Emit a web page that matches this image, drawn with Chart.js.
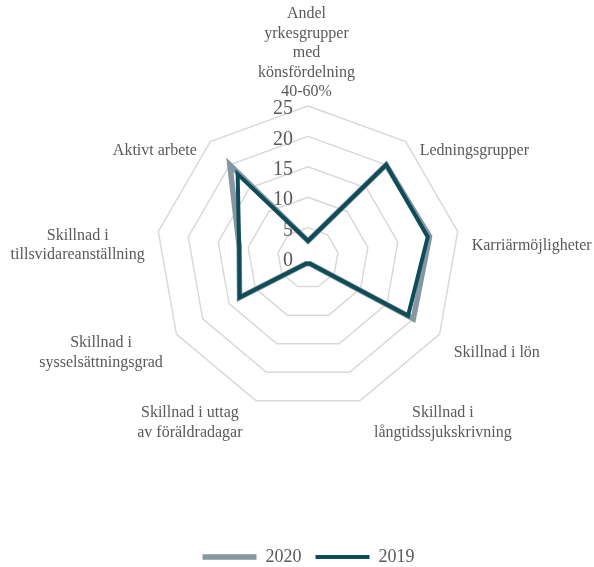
<!DOCTYPE html>
<html>
<head>
<meta charset="utf-8">
<script src="https://cdn.jsdelivr.net/npm/chart.js@4.4.1/dist/chart.umd.min.js"></script>
<style>
  html, body { margin: 0; padding: 0; background: #fff; }
</style>
</head>
<body>
<canvas id="radar" width="594" height="567"></canvas>
<script>
const categories = [
  ['Andel', 'yrkesgrupper', 'med', 'könsfördelning', '40-60%'],
  'Ledningsgrupper',
  'Karriärmöjligheter',
  'Skillnad i lön',
  ['Skillnad i', 'långtidssjukskrivning'],
  ['Skillnad i uttag', 'av föräldradagar'],
  ['Skillnad i', 'sysselsättningsgrad'],
  ['Skillnad i', 'tillsvidareanställning'],
  'Aktivt arbete'
];
const values2020 = [2.8, 20, 20.3, 20, 1, 1, 13, 11.5, 20];
const values2019 = [2.8, 20, 20, 19, 1, 1, 13, 11.5, 18];
const tickValues = [0, 5, 10, 15, 20, 25];

const serif = '"Liberation Serif", "Times New Roman", serif';
const textColor = '#595959';

// tick labels sit left of the vertical axis, like in Excel
const tickLabels = {
  id: 'tickLabels',
  beforeDatasetsDraw(chart) {
    const scale = chart.scales.r;
    const ctx = chart.ctx;
    ctx.save();
    ctx.fillStyle = textColor;
    ctx.font = '20px ' + serif;
    ctx.textAlign = 'right';
    ctx.textBaseline = 'middle';
    tickValues.forEach(v => {
      const y = scale.yCenter - scale.getDistanceFromCenterForValue(v);
      ctx.fillText(String(v), scale.xCenter - 15, y + 3);
    });
    ctx.restore();
  }
};

// category labels, multi-line and centred per block
const categoryLabels = {
  id: 'categoryLabels',
  afterDraw(chart) {
    const scale = chart.scales.r;
    const ctx = chart.ctx;
    const lineH = 19.5;
    ctx.save();
    ctx.fillStyle = textColor;
    ctx.font = '16px ' + serif;
    ctx.textAlign = 'center';
    ctx.textBaseline = 'middle';
    categories.forEach((label, i) => {
      const lines = Array.isArray(label) ? label : [label];
      const n = lines.length;
      const p = scale.getPointPosition(i, scale.drawingArea);
      const cos = Math.cos(p.angle);
      const sin = Math.sin(p.angle);
      const w = Math.max(...lines.map(t => ctx.measureText(t).width));
      let cx, firstY;
      if (Math.abs(cos) < 0.01) {
        cx = p.x - 1.5;
        firstY = p.y - 14 - (n - 1) * lineH;
      } else {
        cx = cos > 0 ? p.x + 14 + w / 2 : p.x - 13.5 - w / 2;
        const midY = p.y + 15 + 7.5 * sin;
        firstY = midY - (n - 1) * lineH / 2;
      }
      lines.forEach((t, k) => ctx.fillText(t, cx, firstY + k * lineH));
    });
    ctx.restore();
  }
};

new Chart(document.getElementById('radar'), {
  type: 'radar',
  data: {
    labels: categories,
    datasets: [
      {
        label: '2019',
        data: values2019,
        borderColor: '#0f4c5a',
        backgroundColor: '#0f4c5a',
        borderWidth: 4,
        borderJoinStyle: 'miter',
        borderCapStyle: 'round',
        fill: false,
        pointRadius: 0
      },
      {
        label: '2020',
        data: values2020,
        borderColor: '#8597a0',
        backgroundColor: '#8597a0',
        borderWidth: 5.5,
        borderJoinStyle: 'miter',
        borderCapStyle: 'round',
        fill: false,
        pointRadius: 0
      }
    ]
  },
  options: {
    responsive: false,
    animation: false,
    layout: {
      padding: { left: 156, right: 133, top: 0, bottom: -9 }
    },
    scales: {
      r: {
        min: 0,
        max: 25,
        ticks: { stepSize: 5, display: false },
        grid: { color: '#d9d9d9', lineWidth: 1.5 },
        angleLines: { display: false },
        pointLabels: { display: false }
      }
    },
    plugins: {
      legend: {
        position: 'bottom',
        reverse: true,
        // empty title used as a spacer above the legend row
        title: { display: true, text: '', font: { size: 1, lineHeight: 1 }, padding: { top: 16, bottom: 0 } },
        labels: {
          usePointStyle: true,
          pointStyle: 'line',
          pointStyleWidth: 54,
          padding: 14,
          color: textColor,
          font: { family: serif, size: 18 }
        }
      },
      tooltip: { enabled: false }
    }
  },
  plugins: [tickLabels, categoryLabels]
});
</script>
</body>
</html>
